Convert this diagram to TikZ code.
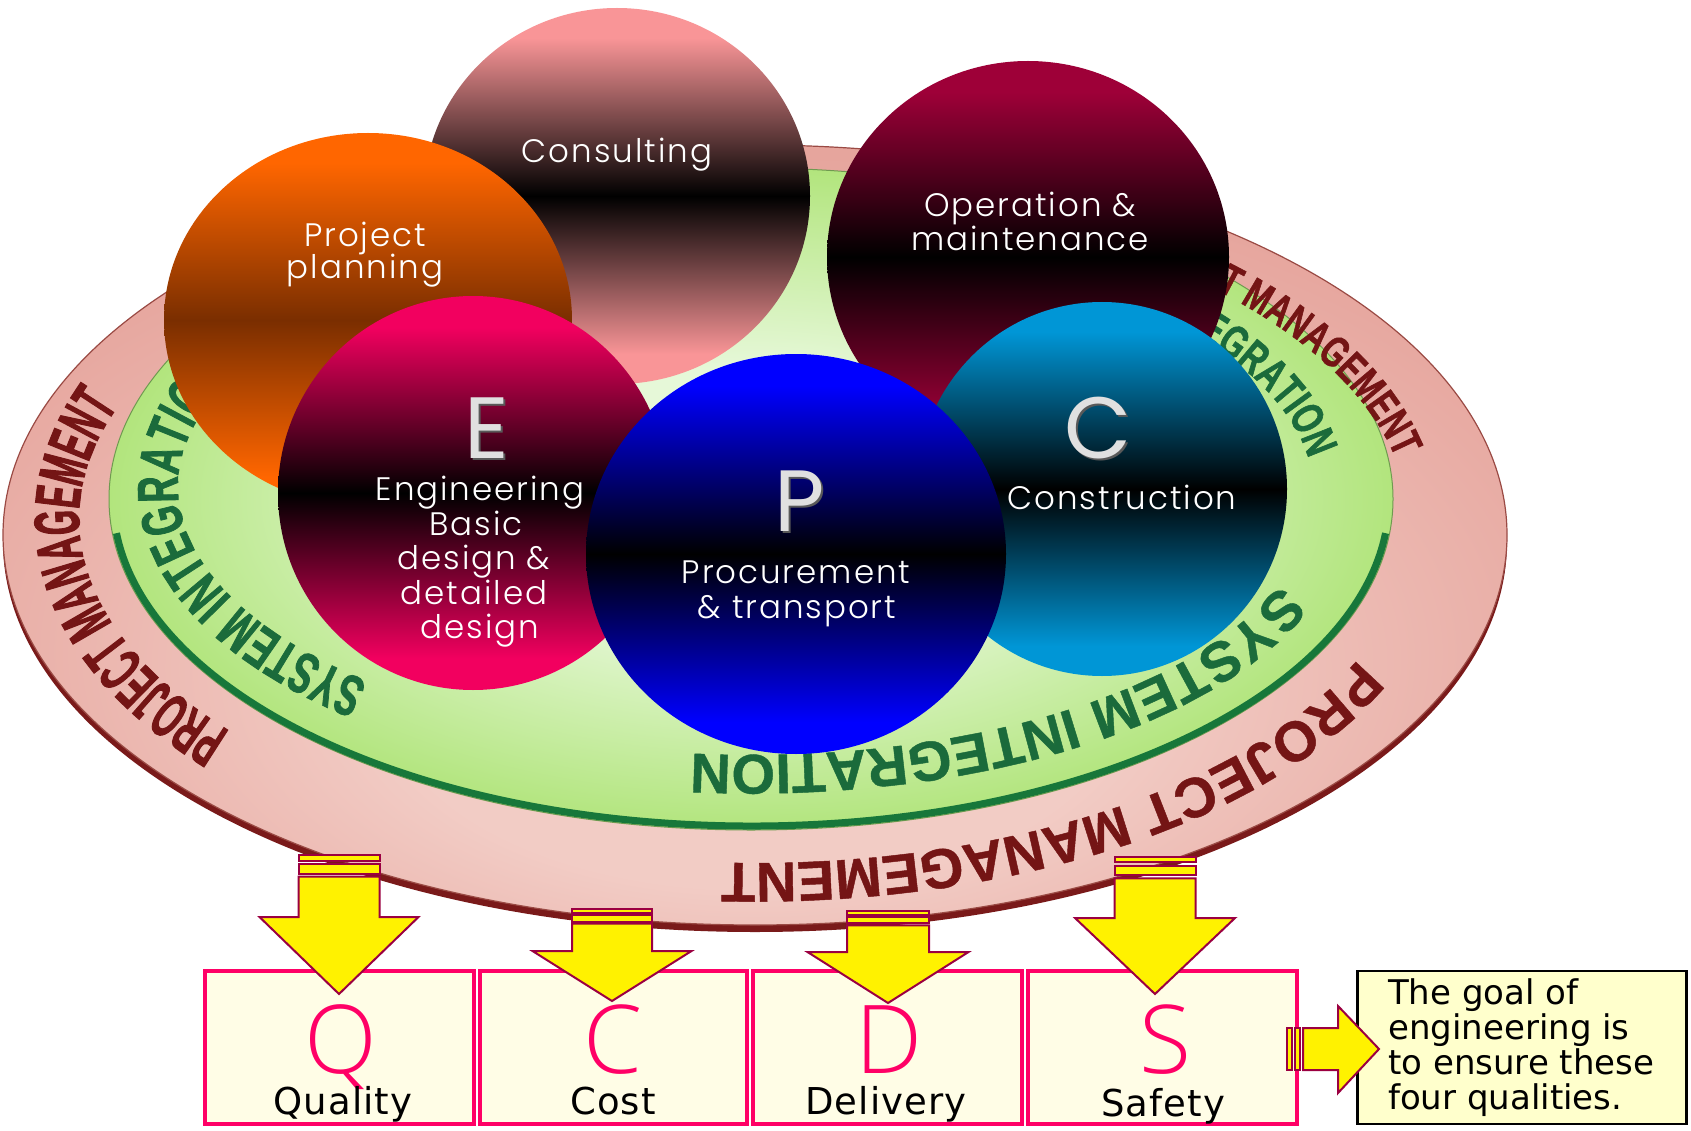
\documentclass[tikz,border=0pt]{standalone}
\usepackage{fontspec}
\usetikzlibrary{decorations.text}
\setmainfont{DejaVu Sans}
\IfFontExistsTF{Poppins Light}{\newfontfamily\circfont[LetterSpace=6]{Poppins Light}}{\newfontfamily\circfont[LetterSpace=6]{Poppins}}
\newfontfamily\bigfont{Poppins}
\IfFontExistsTF{Open Sans Light}{\newfontfamily\qfont{Open Sans Light}}{\newfontfamily\qfont{Open Sans}}
\newfontfamily\wordfont[LetterSpace=3]{DejaVu Sans}
\newfontfamily\notefont{DejaVu Sans}
\newfontfamily\ringA[FakeStretch=0.5,FakeBold=1.5]{Liberation Sans}
\newfontfamily\ringB[FakeStretch=0.63,FakeBold=1.3]{Liberation Sans}
\newfontfamily\ringC[FakeStretch=0.7,FakeBold=1.2]{Liberation Sans}
\newfontfamily\ringD[FakeBold=0.8]{Liberation Sans}

\definecolor{pinkring}{HTML}{E6A59D}
\definecolor{pinklight}{HTML}{F2CCC5}
\definecolor{rimred}{HTML}{7A1A1A}
\definecolor{rimedge}{HTML}{9A4A44}
\definecolor{grn}{HTML}{B2E57D}
\definecolor{grnpale}{HTML}{E6F8D8}
\definecolor{grnedge}{HTML}{6F9A50}
\definecolor{darkgrn}{HTML}{17773A}
\definecolor{sitext}{HTML}{1B6B3B}
\definecolor{pmtext}{HTML}{741515}
\definecolor{qpink}{HTML}{FF0066}
\definecolor{cream}{HTML}{FFFDE6}
\definecolor{callfill}{HTML}{FFFFCC}
\definecolor{arrowedge}{HTML}{9B0041}
\definecolor{cons}{HTML}{F99597}
\definecolor{ppo}{HTML}{FF6600}
\definecolor{ppm}{HTML}{7A2E00}
\definecolor{omc}{HTML}{9E0038}
\definecolor{ccc}{HTML}{0096D6}
\definecolor{eec}{HTML}{F2005F}
\definecolor{ppc}{HTML}{0000FF}
\definecolor{orbout}{HTML}{FF0000}
\definecolor{orbmid}{HTML}{000000}

\pgfdeclareverticalshading[orbout,orbmid]{orbshade}{100bp}{color(0bp)=(orbout); color(29bp)=(orbout); color(50bp)=(orbmid); color(71bp)=(orbout); color(100bp)=(orbout)}
\pgfdeclareradialshading{greenshade}{\pgfpoint{0bp}{0bp}}{color(0bp)=(grnpale); color(10bp)=(grnpale); color(25bp)=(grn); color(50bp)=(grn)}
\pgfdeclareradialshading{pinkshade}{\pgfpoint{0bp}{-14bp}}{color(0bp)=(pinklight); color(12bp)=(pinklight); color(30bp)=(pinkring); color(50bp)=(pinkring)}

\tikzset{
  orb/.style 2 args={/utils/exec={\colorlet{orbout}{#1}\colorlet{orbmid}{#2}}, shading=orbshade},
  ctext/.style={text=white, font=\circfont\fontsize{32.5}{34}\selectfont, inner sep=0pt, anchor=base},
  bigl/.style={text=black!12, font=\bigfont\fontsize{87}{87}\selectfont, inner sep=0pt, anchor=base},
  bigsh/.style={text=black!65, font=\bigfont\fontsize{87}{87}\selectfont, inner sep=0pt, anchor=base},
  qlet/.style={text=qpink, font=\qfont\fontsize{95}{95}\selectfont, inner sep=0pt, anchor=base},
  qword/.style={text=black, font=\wordfont\fontsize{37}{37}\selectfont, inner sep=0pt, anchor=base},
  note/.style={text=black, font=\notefont\fontsize{34}{35}\selectfont, inner sep=0pt, anchor=base west},
  qbox/.style={draw=qpink, line width=3.5pt, fill=cream, minimum height=153pt, inner sep=0pt},
  arrowsty/.style={fill=yellow, draw=arrowedge, line width=2pt, line join=miter},
}

\newcommand{\qarrow}[6]{%
  \pgfmathsetmacro{\qL}{#4-#2}%
  \filldraw[arrowsty] ({#1-#3},{#2}) rectangle ({#1+#3},{#2+0.09*\qL});
  \filldraw[arrowsty] ({#1-#3},{#2+0.14*\qL}) rectangle ({#1+#3},{#2+0.30*\qL});
  \filldraw[arrowsty] ({#1-#3},{#2+0.35*\qL}) -- ({#1+#3},{#2+0.35*\qL}) -- ({#1+#3},{#4}) -- ({#1+#5},{#4}) -- ({#1},{#6}) -- ({#1-#5},{#4}) -- ({#1-#3},{#4}) -- cycle;
}

\begin{document}
\begin{tikzpicture}[x=1pt, y=-1pt]
\useasboundingbox[fill=white] (0,0) rectangle (1691,1131);

% outer pink ring
\fill[rimred] (755,542) ellipse [x radius=752, y radius=390];
\shadedraw[shading=pinkshade, draw=rimedge, line width=1.2pt] (755,535) ellipse [x radius=752, y radius=390];
% green ring
\shadedraw[shading=greenshade, draw=grnedge, line width=1pt] (751,499) ellipse [x radius=642, y radius=331];
\draw[darkgrn, line width=7pt] ([shift={(6:638 and 327)}]751,499) arc[start angle=6, end angle=174, x radius=638, y radius=327];

% PROJECT MANAGEMENT texts
\path[decorate, decoration={text along path, text color=pmtext,
  text={|\ringA\bfseries\fontsize{64}{64}\selectfont|PROJECT MANAGEMENT}}]
  ([shift={(141:676 and 337)}]755,519) arc[start angle=141, end angle=250, x radius=676, y radius=337];
\path[decorate, decoration={text along path, text color=pmtext,
  text={|\ringD\bfseries\fontsize{56}{56}\selectfont|PROJECT MANAGEMENT}}]
  ([shift={(23:655 and 335)}]755,528) arc[start angle=23, end angle=140, x radius=655, y radius=335];
\path[decorate, decoration={text along path, text color=pmtext, text align=right,
  text={|\ringC\bfseries\fontsize{44}{44}\selectfont|PROJECT MANAGEMENT}}]
  ([shift={(220:655 and 335)}]755,528) arc[start angle=220, end angle=348, x radius=655, y radius=335];

% SYSTEM INTEGRATION texts
\path[decorate, decoration={text along path, text color=sitext,
  text={|\ringB\bfseries\fontsize{58}{58}\selectfont|SYSTEM INTEGRATION}}]
  ([shift={(132:574 and 262)}]752,487) arc[start angle=132, end angle=240, x radius=574, y radius=262];
\path[decorate, decoration={text along path, text color=sitext,
  text={|\ringD\bfseries\fontsize{56}{56}\selectfont|SYSTEM INTEGRATION}}]
  ([shift={(20:562 and 260)}]752,495) arc[start angle=20, end angle=130, x radius=562, y radius=260];
\path[decorate, decoration={text along path, text color=sitext, text align=right,
  text={|\ringC\bfseries\fontsize{46}{46}\selectfont|SYSTEM INTEGRATION}}]
  ([shift={(220:562 and 260)}]752,495) arc[start angle=220, end angle=352, x radius=562, y radius=260];

% circles
\shade[orb={cons}{black}] (617,196) ellipse [x radius=193, y radius=188];
\shade[orb={ppo}{ppm}] (368,320) ellipse [x radius=204, y radius=187];
\shade[orb={omc}{black}] (1028,257) ellipse [x radius=201, y radius=196];
\shade[orb={ccc}{black}] (1102,489) ellipse [x radius=185, y radius=187];
\shade[orb={eec}{black}] (473,493) ellipse [x radius=195, y radius=197];
\shade[orb={ppc}{black}] (796,554) ellipse [x radius=210, y radius=200];

% circle texts
\node[ctext] (t1) at (617,163) {Consulting};
\node[ctext] (t2a) at (365,247) {Project};
\node[ctext] (t2b) at (365,279) {planning};
\node[ctext] (t3a) at (1030,217) {Operation \&};
\node[ctext] (t3b) at (1030,251) {maintenance};
\node[bigsh] (eS) at (489,460) {E};
\node[bigl] (eL) at (487,458) {E};
\node[ctext] (t4a) at (480,500) {Engineering};
\node[ctext] (t4b) at (476,535) {Basic};
\node[ctext] (t4c) at (474,569) {design \&};
\node[ctext] (t4d) at (474,604) {detailed};
\node[ctext] (t4e) at (480,638) {design};
\node[bigsh] (pS) at (802,533) {P};
\node[bigl] (pL) at (800,531) {P};
\node[ctext] (t5a) at (796,583) {Procurement};
\node[ctext] (t5b) at (797,618) {\& transport};
\node[bigsh] (cS) at (1100,460) {C};
\node[bigl] (cL) at (1098,458) {C};
\node[ctext] (t6) at (1122,509) {Construction};

% QCDS boxes
\node[qbox, minimum width=269pt] (bq) at (339.5,1047.5) {};
\node[qbox, minimum width=267pt] (bc) at (613.5,1047.5) {};
\node[qbox, minimum width=269pt] (bd) at (887.5,1047.5) {};
\node[qbox, minimum width=269pt] (bs) at (1162.5,1047.5) {};
\node[draw=black, line width=2.5pt, fill=callfill, minimum width=329pt, minimum height=153pt, inner sep=0pt] (goal) at (1522,1047.5) {};

\node[qlet] (lq) at (341,1073) {Q};
\node[qlet] (lc) at (613,1073) {C};
\node[qlet] (ld) at (889,1073) {D};
\node[qlet] (ls) at (1165,1073) {S};
\node[qword] (wq) at (343,1114) {Quality};
\node[qword] (wc) at (613,1114) {Cost};
\node[qword] (wd) at (886,1114) {Delivery};
\node[qword] (ws) at (1163,1116) {Safety};

\node[note] (g1) at (1388,1004) {The goal of};
\node[note] (g2) at (1388,1039) {engineering is};
\node[note] (g3) at (1388,1074) {to ensure these};
\node[note] (g4) at (1388,1109) {four qualities.};

% arrows
\qarrow{339}{855}{40.5}{917}{79.5}{994}
\qarrow{612}{909}{40}{951}{79.5}{1001}
\qarrow{888}{911}{41}{952}{80.5}{1003}
\qarrow{1155}{857}{40.5}{918}{80}{994}
\filldraw[arrowsty] (1287,1028) rectangle (1292,1070);
\filldraw[arrowsty] (1295,1028) rectangle (1300,1070);
\filldraw[arrowsty] (1303,1028) -- (1338,1028) -- (1338,1006) -- (1379,1049) -- (1338,1093) -- (1338,1070) -- (1303,1070) -- cycle;
\end{tikzpicture}
\end{document}
